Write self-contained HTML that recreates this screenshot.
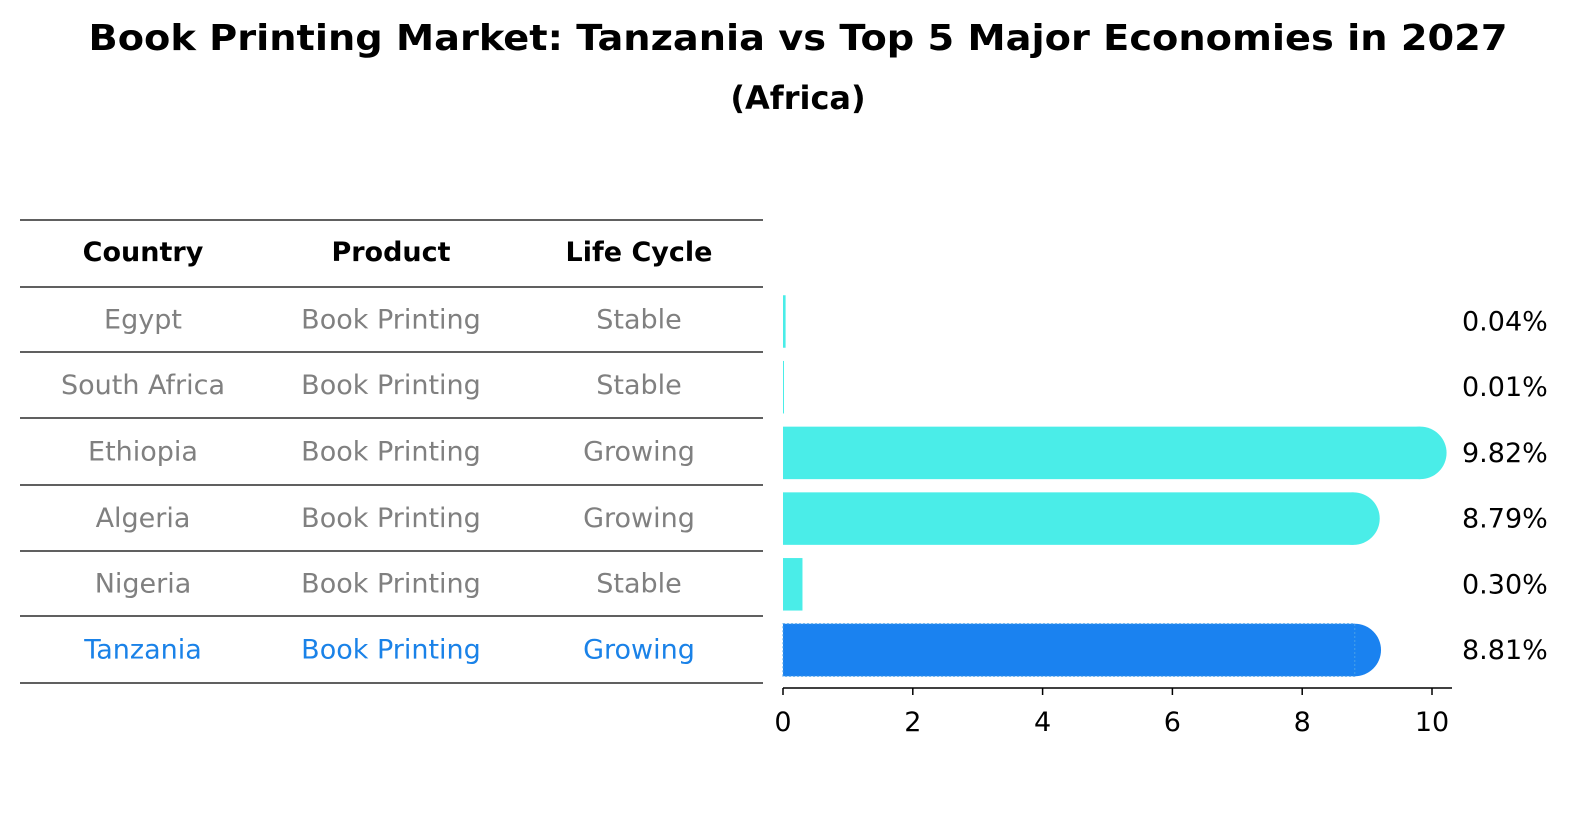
<!DOCTYPE html>
<html><head><meta charset="utf-8"><style>
body{margin:0;background:#fff;font-family:"Liberation Sans","DejaVu Sans",sans-serif}
svg text{font-family:"DejaVu Sans","Liberation Sans",sans-serif}
</style></head><body>
<svg width="1586" height="823" xmlns="http://www.w3.org/2000/svg">
<text x="798" y="50" text-anchor="middle" font-size="36" font-weight="bold" textLength="1419" lengthAdjust="spacingAndGlyphs">Book Printing Market: Tanzania vs Top 5 Major Economies in 2027</text>
<text x="798" y="109" text-anchor="middle" font-size="32" font-weight="bold">(Africa)</text>
<g id="table"></g>
<g id="bars"></g>
</svg>
<script>
const countries=["Egypt","South Africa","Ethiopia","Algeria","Nigeria","Tanzania"];
const products=["Book Printing","Book Printing","Book Printing","Book Printing","Book Printing","Book Printing"];
const lifecycles=["Stable","Stable","Growing","Growing","Stable","Growing"];
const values=[0.04,0.01,9.82,8.79,0.30,8.81];
const ticks=[0,2,4,6,8,10];
const NS="http://www.w3.org/2000/svg";
function mk(tag,attrs,parent,text){const e=document.createElementNS(NS,tag);for(const k in attrs)e.setAttribute(k,attrs[k]);if(text!==undefined)e.textContent=text;parent.appendChild(e);return e;}
const tbl=document.getElementById('table'),bars=document.getElementById('bars');
const x0=783,xs=64.9;const X=v=>x0+v*xs;
const rowY=i=>321.5+i*65.7;
const cols=[143,391,639];
const hl=[["Country","header-country"],["Product","header-product"],["Life Cycle","header-life-cycle"]];
hl.forEach((h,j)=>{const t=mk('text',{x:cols[j],y:261,'text-anchor':'middle','font-size':27,'font-weight':'bold'},tbl,h[0]);

});
const lines=[220,287,352,418,485,551,616,683];
lines.forEach(y=>{const l=mk('line',{x1:20,x2:763,y1:y,y2:y,stroke:'#000','stroke-width':1.2},tbl);

});
countries.forEach((c,i)=>{const y=(lines[i+1]+lines[i+2])/2+9;const col=i==5?'#1a82e8':'#808080';
[c,products[i],lifecycles[i]].forEach((s,j)=>{const t=mk('text',{x:cols[j],y:y,'text-anchor':'middle','font-size':27,fill:col},tbl,s);

});
const cy=rowY(i),h=52.5,w=X(values[i])-x0;const fill=i==5?'#1a82f0':'#4aede8';
const r=mk('rect',{x:x0,y:cy-h/2,width:Math.max(w,1),height:h,fill:fill},bars);


if(values[i]>1){const cc=mk('circle',{cx:X(values[i]),cy:cy,r:h/2,fill:fill},bars);

}
if(i==5){const d=mk('rect',{x:x0,y:cy-h/2,width:w,height:h,fill:'none',stroke:'#4aa0e8','stroke-width':1,'stroke-dasharray':'2,2'},bars);

}
const lt=mk('text',{x:1462,y:cy+9,'font-size':27},bars,values[i].toFixed(2)+'%');

});
const ax=mk('line',{x1:x0,x2:1452,y1:688,y2:688,stroke:'#000','stroke-width':1.5},bars);


ticks.forEach(t=>{const l=mk('line',{x1:X(t),x2:X(t),y1:688,y2:695,stroke:'#000','stroke-width':1.5},bars);


const tx=mk('text',{x:X(t),y:731,'text-anchor':'middle','font-size':27},bars,String(t));

});
</script>
</body></html>
